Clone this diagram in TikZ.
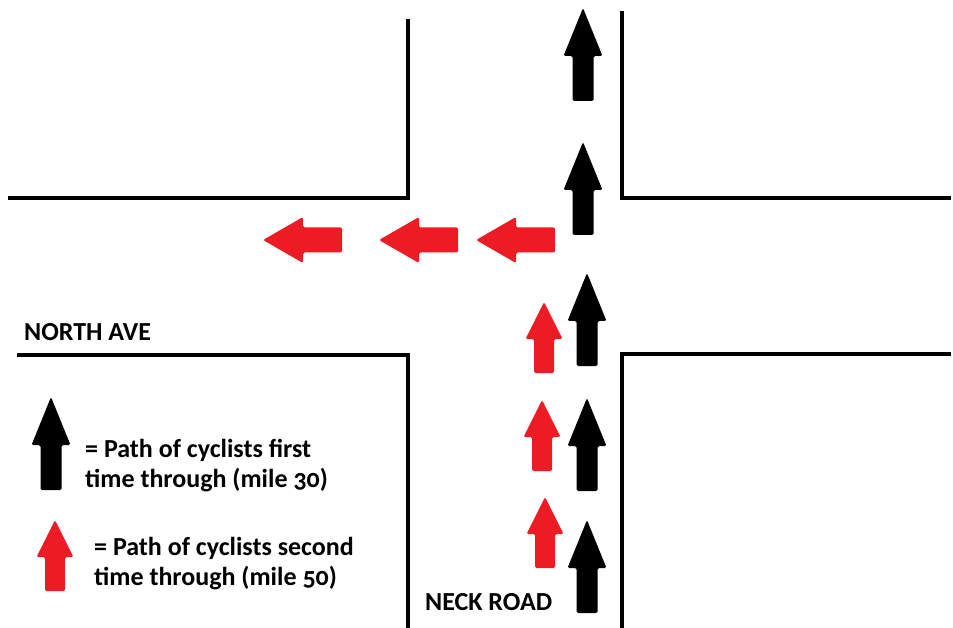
\documentclass[tikz,border=0pt]{standalone}
\usepackage{fontspec}
\setmainfont{Carlito}[Numbers=OldStyle]
\usetikzlibrary{positioning}
\definecolor{paintred}{HTML}{ED1C24}
\tikzset{
  road/.style={line width=4pt, line cap=rect},
  label/.style={font=\bfseries\fontsize{26}{30}\selectfont, inner sep=0pt, anchor=base west, align=left}
}

\begin{document}
\begin{tikzpicture}[x=1pt,y=-1pt]
  \useasboundingbox (0,0) rectangle (953,628);

  % help functions
        % upward block arrow: x, tip y, length, head length, head half width, shaft half width, colour
  \def\arrowUp(#1,#2,#3,#4,#5,#6,#7){
    \fill[#7,rounded corners=1.5pt]
      (#1,#2) -- ({#1+#5},{#2+#4}) -- ({#1+#6},{#2+#4}) -- ({#1+#6},{#2+#3})
      -- ({#1-#6},{#2+#3}) -- ({#1-#6},{#2+#4}) -- ({#1-#5},{#2+#4}) -- cycle;}
        % leftward block arrow: tip x, y, length, head length, head half height, shaft half height, colour
  \def\arrowLeft(#1,#2,#3,#4,#5,#6,#7){
    \fill[#7,rounded corners=1.5pt]
      (#1,#2) -- ({#1+#4},{#2-#5}) -- ({#1+#4},{#2-#6}) -- ({#1+#3},{#2-#6})
      -- ({#1+#3},{#2+#6}) -- ({#1+#4},{#2+#6}) -- ({#1+#4},{#2+#5}) -- cycle;}
  \def\blackUp(#1,#2){\arrowUp(#1,#2,93,48,19.5,10.5,black)}
  \def\redUp(#1,#2){\arrowUp(#1,#2,71,37,18.5,10,paintred)}
  \def\redLeft(#1,#2){\arrowLeft(#1,#2,79,40,23,12.5,paintred)}

  % road edges
  \draw[road] (10,198) -- (408,198) -- (408,21);
  \draw[road] (622,13) -- (622,198) -- (949,198);
  \draw[road] (19,355) -- (408,355) -- (408,628);
  \draw[road] (622,628) -- (622,354) -- (949,354);

  % first time through
  \blackUp(583,8)
  \blackUp(583,142)
  \blackUp(587,273)
  \blackUp(587,398)
  \blackUp(587,520)

  % second time through
  \redUp(544,302)
  \redUp(542,400)
  \redUp(545,497)
  \redLeft(476,240)
  \redLeft(379,240)
  \redLeft(263,240)

  % street names
  \node[label] (north) at (24,341) {NORTH AVE};
  \node[label] (neck) at (425,610) {NECK ROAD};

  % legend (base = last line)
  \blackUp(51,397)
  \redUp(55,520)
  \node[label] (first) at (85,487) {= Path of cyclists first\\time through (mile 30)};
  \node[label] (second) at (94,585) {= Path of cyclists second\\time through (mile 50)};
\end{tikzpicture}
\end{document}
